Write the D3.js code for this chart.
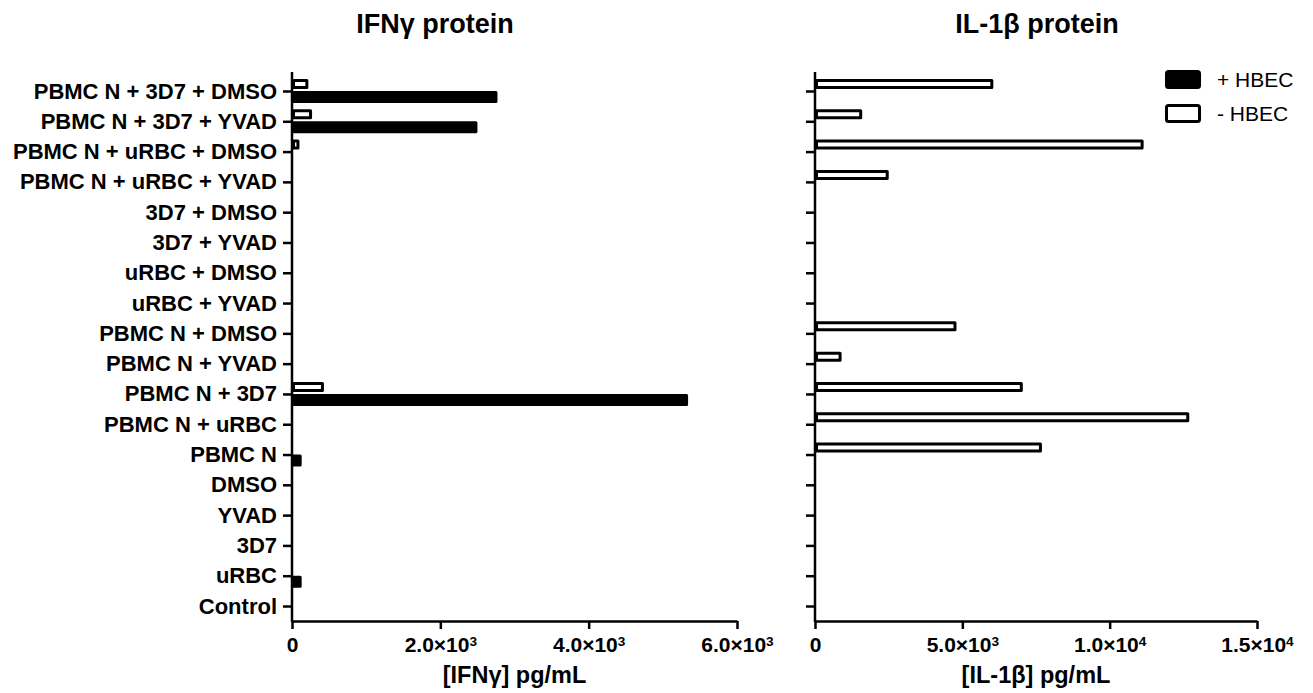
<!DOCTYPE html>
<html>
<head>
<meta charset="utf-8">
<script src="https://cdn.jsdelivr.net/npm/d3@7"></script>
<style>
  body { margin: 0; background: #fff; }
  svg { font-family: Arial, "Liberation Sans", sans-serif; }
</style>
</head>
<body>
<div id="chart"></div>
<script>
const categories = [
  'PBMC N + 3D7 + DMSO', 'PBMC N + 3D7 + YVAD', 'PBMC N + uRBC + DMSO', 'PBMC N + uRBC + YVAD',
  '3D7 + DMSO', '3D7 + YVAD', 'uRBC + DMSO', 'uRBC + YVAD',
  'PBMC N + DMSO', 'PBMC N + YVAD', 'PBMC N + 3D7', 'PBMC N + uRBC',
  'PBMC N', 'DMSO', 'YVAD', '3D7', 'uRBC', 'Control'
];
// + HBEC (black) and - HBEC (open) values, same order as categories
const ifngPlus  = [2730, 2460, 0, 0, 0, 0, 0, 0, 0, 0, 5300, 0, 90, 0, 0, 0, 90, 0];
const ifngMinus = [180, 230, 60, 0, 0, 0, 0, 0, 0, 0, 390, 0, 0, 0, 0, 0, 0, 0];
const il1bPlus  = [0, 0, 0, 0, 0, 0, 0, 0, 0, 0, 0, 0, 0, 0, 0, 0, 0, 0];
const il1bMinus = [5950, 1500, 11050, 2400, 0, 0, 0, 0, 4700, 800, 6950, 12600, 7600, 0, 0, 0, 0, 0];

const ifngTicks = [0, 2000, 4000, 6000];
const il1bTicks = [0, 5000, 10000, 15000];

const W = 1313, H = 693;
const svg = d3.select('#chart').append('svg').attr('width', W).attr('height', H);

const yTop = 72, xAxisY = 621;
const y = d3.scalePoint().domain(categories).range([91, 606]);

function sciLabel(sel, v) {
  sel.text(null);
  if (v === 0) { sel.text('0'); return; }
  const e = Math.floor(Math.log10(v));
  const m = (v / Math.pow(10, e)).toFixed(1);
  sel.append('tspan').text(m + '\u00d710');
  sel.append('tspan').attr('dy', '-0.4em').attr('font-size', '0.65em').text(e);
}

function panel(opts) {
  const x = d3.scaleLinear().domain([0, opts.max]).range([opts.x0, opts.x1]);
  const g = svg.append('g');

  // bars: open (- HBEC) above the tick, filled (+ HBEC) below
  const start = x(0) + 1.5;
  g.selectAll('rect.minus').data(opts.minus).join('rect')
    .attr('class', 'minus')
    .attr('x', start)
    .attr('y', (d, i) => y(categories[i]) - 10.5)
    .attr('width', d => Math.max(0, x(d) - x(0)))
    .attr('height', 7)
    .attr('fill', '#fff').attr('stroke', '#000').attr('stroke-width', 3)
    .attr('stroke-linejoin', 'round');
  g.selectAll('rect.plus').data(opts.plus).join('rect')
    .attr('class', 'plus')
    .attr('x', start)
    .attr('y', (d, i) => y(categories[i]) + 1.5)
    .attr('width', d => Math.max(0, x(d) - x(0)))
    .attr('height', 9)
    .attr('fill', '#000').attr('stroke', '#000').attr('stroke-width', 3)
    .attr('stroke-linejoin', 'round');

  // y axis
  const ya = g.append('g').attr('transform', `translate(${opts.x0},0)`)
    .call(d3.axisLeft(y).tickSize(9).tickPadding(6).tickSizeOuter(0));
  ya.select('.domain').remove();
  ya.selectAll('line').attr('stroke-width', 2.5);
  ya.append('line').attr('y1', yTop).attr('y2', xAxisY + 1)
    .attr('stroke', '#000').attr('stroke-width', 2.5);
  if (opts.labels) {
    ya.selectAll('text').attr('font-size', 22).attr('font-weight', 'bold').attr('fill', '#000');
  } else {
    ya.selectAll('text').remove();
  }

  // x axis
  const xa = g.append('g').attr('transform', `translate(0,${xAxisY})`)
    .call(d3.axisBottom(x).tickValues(opts.ticks).tickSize(8).tickPadding(8).tickSizeOuter(0));
  xa.select('.domain').attr('stroke-width', 2.5);
  xa.selectAll('line').attr('stroke-width', 2.5);
  xa.selectAll('text').attr('font-size', 21).attr('font-weight', 'bold').attr('fill', '#000')
    .each(function(d) { sciLabel(d3.select(this), d); });

  svg.append('text').attr('x', opts.titleX).attr('y', 33)
    .attr('text-anchor', 'middle').attr('font-size', 27).attr('font-weight', 'bold')
    .text(opts.title);
  svg.append('text').attr('x', (opts.x0 + opts.x1) / 2).attr('y', 683)
    .attr('text-anchor', 'middle').attr('font-size', 23.5).attr('font-weight', 'bold')
    .text(opts.axisTitle);
}

panel({ x0: 292, x1: 737, max: 6000, ticks: ifngTicks, plus: ifngPlus, minus: ifngMinus,
  labels: true, title: 'IFN\u03b3 protein', titleX: 435, axisTitle: '[IFN\u03b3] pg/mL' });
panel({ x0: 815, x1: 1257, max: 15000, ticks: il1bTicks, plus: il1bPlus, minus: il1bMinus,
  labels: false, title: 'IL-1\u03b2 protein', titleX: 1037, axisTitle: '[IL-1\u03b2] pg/mL' });

// legend
const legend = svg.append('g').attr('transform', 'translate(1165,70)');
const legendItems = [{ name: '+ HBEC', fill: '#000' }, { name: '- HBEC', fill: '#fff' }];
legendItems.forEach((it, i) => {
  const gy = i * 34;
  legend.append('rect').attr('x', 1.5).attr('y', gy + 1.5).attr('width', 33).attr('height', 16)
    .attr('rx', 2).attr('fill', it.fill).attr('stroke', '#000').attr('stroke-width', 3);
  legend.append('text').attr('x', 52).attr('y', gy + 17).attr('font-size', 21).text(it.name);
});
</script>
</body>
</html>
